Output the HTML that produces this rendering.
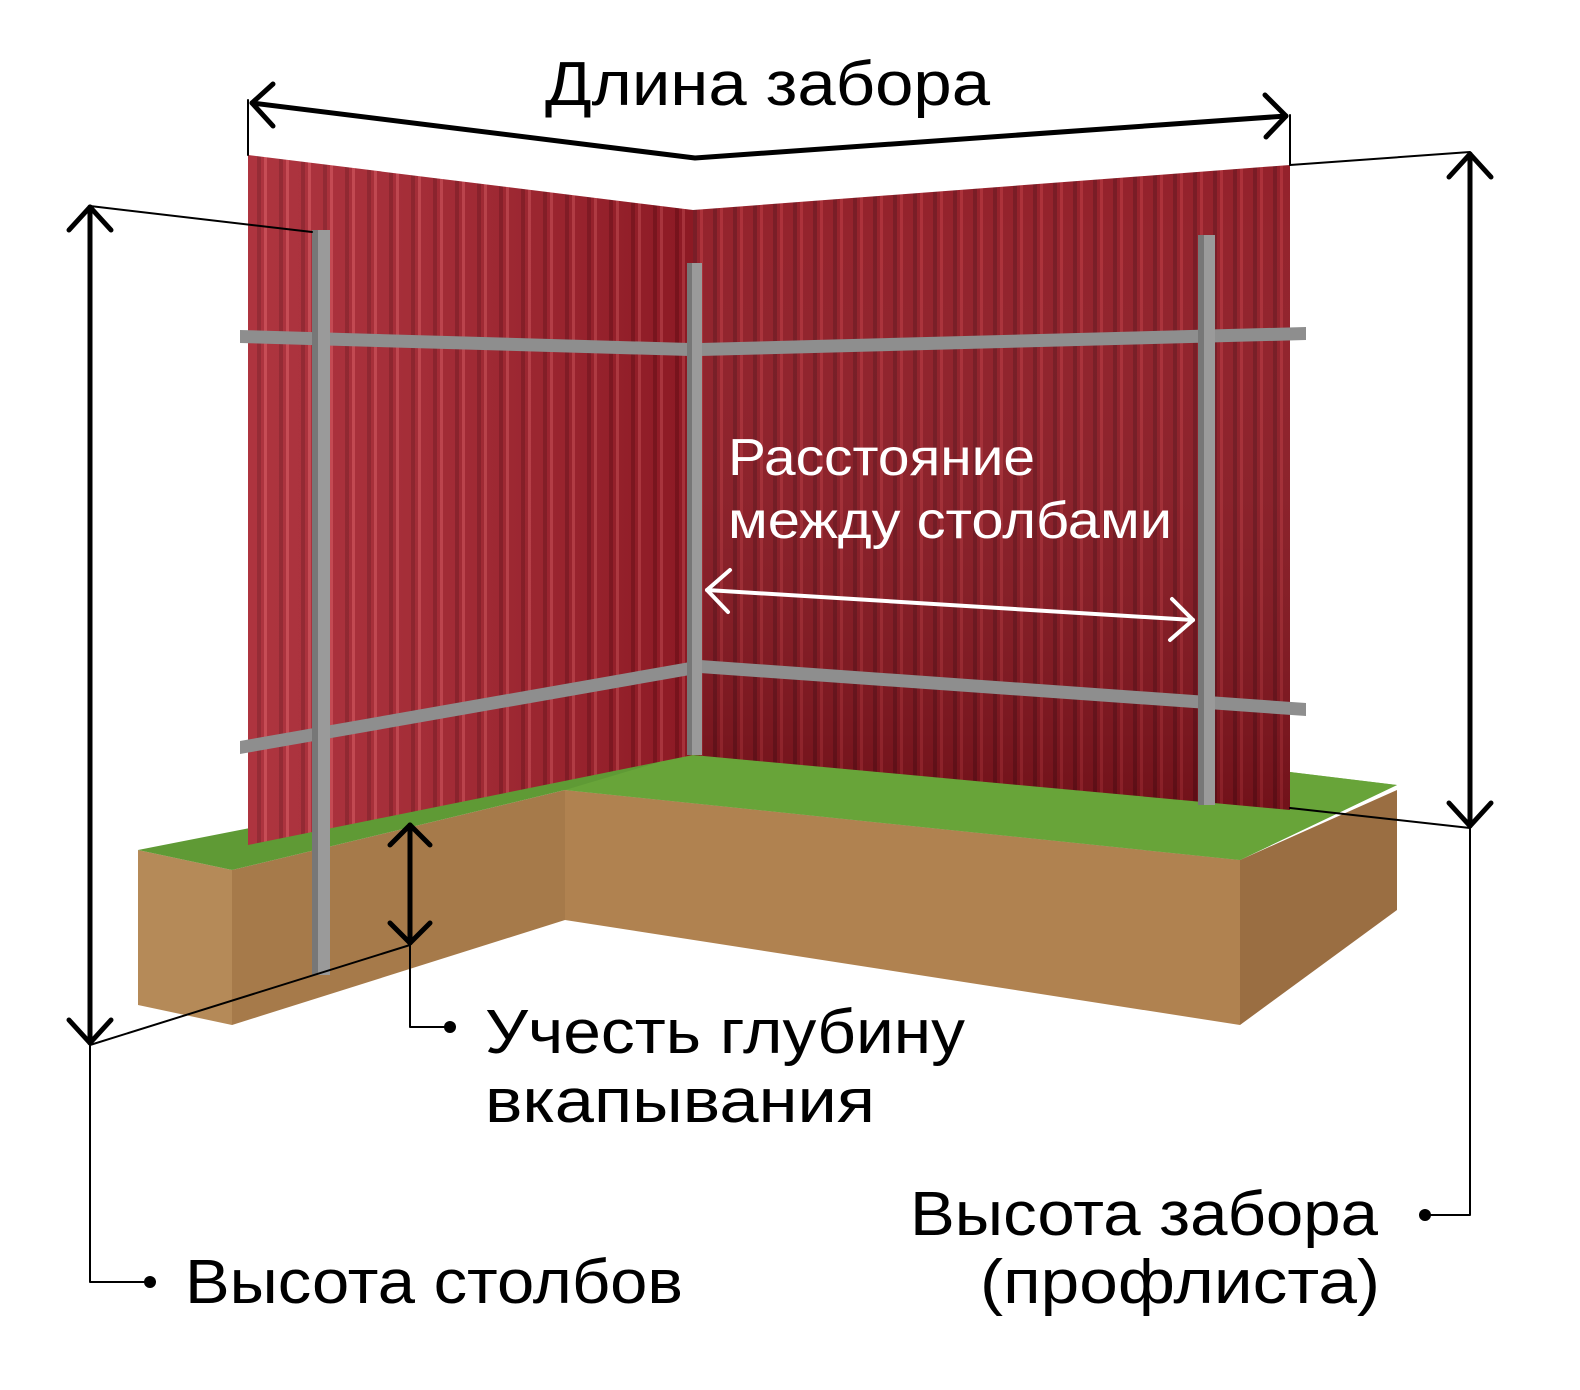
<!DOCTYPE html>
<html><head><meta charset="utf-8"><style>
html,body{margin:0;padding:0;background:#fff}
svg{display:block}
text{font-family:"Liberation Sans","DejaVu Sans",sans-serif}
</style></head><body>
<svg width="1580" height="1390" viewBox="0 0 1580 1390" xmlns="http://www.w3.org/2000/svg">
<defs>
<pattern id="corL" width="22" height="40" patternUnits="userSpaceOnUse">
<rect width="22" height="40" fill="#a51e2a"/>
<rect x="0" width="3" height="40" fill="#c23a44"/>
<rect x="15" width="4" height="40" fill="#8a1520"/>
</pattern>
<pattern id="corR" width="20" height="40" patternUnits="userSpaceOnUse">
<rect width="20" height="40" fill="#8e1620"/>
<rect x="0" width="3" height="40" fill="#a8262f"/>
<rect x="13" width="4" height="40" fill="#73101a"/>
</pattern>
<linearGradient id="shL" x1="0" x2="1" y1="0" y2="0">
<stop offset="0" stop-color="#fff" stop-opacity="0.1"/><stop offset="1" stop-color="#000" stop-opacity="0.15"/>
</linearGradient>
<linearGradient id="shR" x1="0" x2="0" y1="0" y2="1">
<stop offset="0" stop-color="#fff" stop-opacity="0.05"/><stop offset="1" stop-color="#000" stop-opacity="0.2"/>
</linearGradient>
</defs>

<!-- soil -->
<polygon points="138,850 232,870 232,1025 138,1005" fill="#b58a58"/>
<polygon points="232,870 565,790 565,920 232,1025" fill="#a67a4a"/>
<polygon points="565,790 1240,860 1240,1025 565,920" fill="#b08250"/>
<polygon points="1240,860 1397,790 1397,910 1240,1025" fill="#9a6e42"/>
<!-- grass -->
<polygon points="138,850 250,828 693,752 1290,772 1397,785 1240,860 565,790 232,870" fill="#5f9a35"/>
<polygon points="565,790 693,752 1290,772 1397,785 1240,860" fill="#6aa63b" opacity="0.8"/>

<!-- panels -->
<polygon points="248,155 693,210 693,755 248,845" fill="url(#corL)"/>
<polygon points="248,155 693,210 693,755 248,845" fill="url(#shL)"/>
<polygon points="693,210 1290,165 1290,810 693,755" fill="url(#corR)"/>
<polygon points="693,210 1290,165 1290,810 693,755" fill="url(#shR)"/>

<!-- rails -->
<polygon points="240,330 690,343 690,356 240,343" fill="#8e8e8e"/>
<polygon points="700,343 1306,327 1306,340 700,356" fill="#8e8e8e"/>
<polygon points="240,741 690,662 690,675 240,754" fill="#8e8e8e"/>
<polygon points="700,660 1306,703 1306,716 700,673" fill="#8e8e8e"/>
<!-- posts -->
<rect x="312" y="230" width="18" height="745" fill="#9a9a9a"/><rect x="312" y="230" width="6" height="745" fill="#777"/>
<rect x="687" y="263" width="15" height="492" fill="#9a9a9a"/><rect x="687" y="263" width="5" height="492" fill="#777"/>
<rect x="1198" y="235" width="17" height="570" fill="#9a9a9a"/><rect x="1198" y="235" width="6" height="570" fill="#777"/>

<g stroke="#000" fill="none" stroke-linecap="round" stroke-linejoin="round">
<!-- top dimension -->
<line x1="248" y1="100" x2="248" y2="155" stroke-width="2"/>
<line x1="1290" y1="115" x2="1290" y2="165" stroke-width="2"/>
<polyline points="252,103 695,158 1286,116" stroke-width="5"/>
<polyline points="273,84 252,103 273,126" stroke-width="5"/>
<polyline points="1265,95 1286,116 1266,137" stroke-width="5"/>
<!-- left height -->
<line x1="90" y1="207" x2="90" y2="1043" stroke-width="5"/>
<polyline points="69,230 90,207 111,230" stroke-width="5"/>
<polyline points="69,1020 90,1043 111,1020" stroke-width="5"/>
<line x1="90" y1="206" x2="312" y2="232" stroke-width="2"/>
<line x1="90" y1="1045" x2="410" y2="945" stroke-width="2"/>
<polyline points="90,1045 90,1282 148,1282" stroke-width="2"/>
<!-- depth -->
<line x1="410" y1="825" x2="410" y2="943" stroke-width="5"/>
<polyline points="390,845 410,825 430,845" stroke-width="5"/>
<polyline points="390,923 410,943 430,923" stroke-width="5"/>
<polyline points="410,945 410,1027 445,1027" stroke-width="2"/>
<!-- right height -->
<line x1="1470" y1="154" x2="1470" y2="826" stroke-width="5"/>
<polyline points="1449,177 1470,154 1491,177" stroke-width="5"/>
<polyline points="1449,803 1470,826 1491,803" stroke-width="5"/>
<line x1="1290" y1="165" x2="1470" y2="152" stroke-width="2"/>
<line x1="1290" y1="808" x2="1470" y2="828" stroke-width="2"/>
<polyline points="1470,828 1470,1215 1428,1215" stroke-width="2"/>
</g>
<circle cx="150" cy="1282" r="6"/>
<circle cx="450" cy="1027" r="6"/>
<circle cx="1425" cy="1215" r="6"/>

<!-- white arrow -->
<g stroke="#fff" fill="none" stroke-width="4" stroke-linecap="round" stroke-linejoin="round">
<line x1="707" y1="590" x2="1193" y2="620"/>
<polyline points="730,570 707,590 728,612"/>
<polyline points="1172,599 1193,620 1170,640"/>
</g>

<text x="545" y="105" font-size="62" textLength="445" lengthAdjust="spacingAndGlyphs">Длина забора</text>
<text x="728" y="475" font-size="52" fill="#fff" textLength="307" lengthAdjust="spacingAndGlyphs">Расстояние</text>
<text x="728" y="538" font-size="52" fill="#fff" textLength="444" lengthAdjust="spacingAndGlyphs">между столбами</text>
<text x="485" y="1053" font-size="62" textLength="480" lengthAdjust="spacingAndGlyphs">Учесть глубину</text>
<text x="485" y="1122" font-size="62" textLength="390" lengthAdjust="spacingAndGlyphs">вкапывания</text>
<text x="910" y="1235" font-size="62" textLength="468" lengthAdjust="spacingAndGlyphs">Высота забора</text>
<text x="980" y="1303" font-size="62" textLength="400" lengthAdjust="spacingAndGlyphs">(профлиста)</text>
<text x="185" y="1303" font-size="62" textLength="498" lengthAdjust="spacingAndGlyphs">Высота столбов</text>
</svg>
</body></html>
